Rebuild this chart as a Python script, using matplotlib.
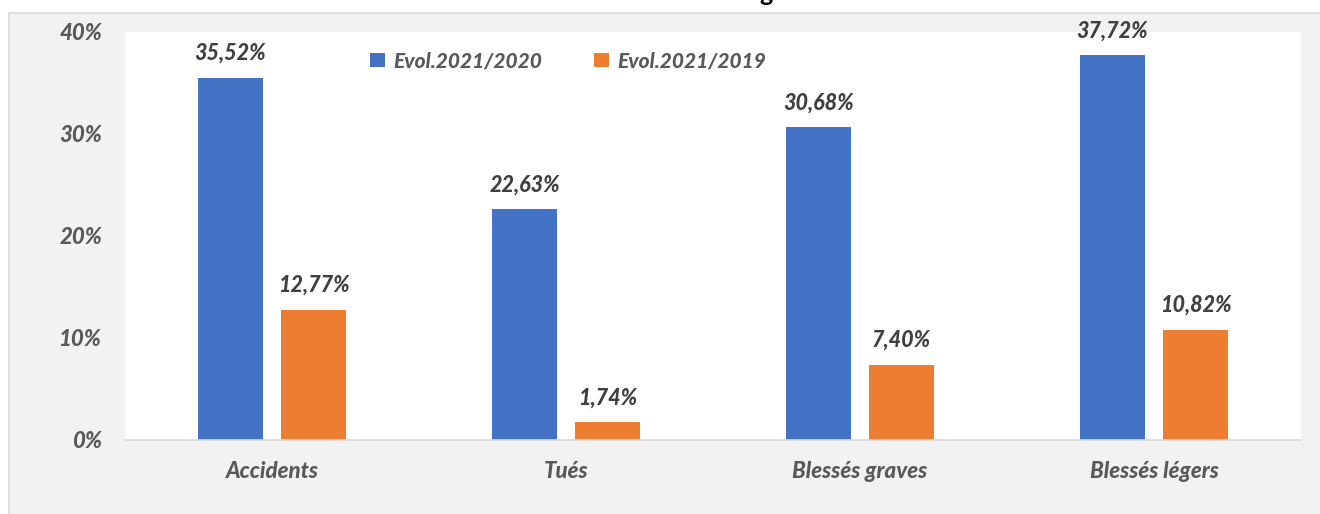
import matplotlib
matplotlib.use("Agg")
import matplotlib.pyplot as plt
from matplotlib.patches import Rectangle
import numpy as np

categories = ["Accidents", "Tués", "Blessés graves", "Blessés légers"]
evol_2020 = [35.52, 22.63, 30.68, 37.72]
evol_2019 = [12.77, 1.74, 7.40, 10.82]
series_names = ["Evol.2021/2020", "Evol.2021/2019"]
yticks = [0, 10, 20, 30, 40]

W, H = 1320, 514
fig = plt.figure(figsize=(W / 100, H / 100), dpi=100)
fig.patch.set_facecolor("white")

FONT = ["Lato", "DejaVu Sans"]
# gray chart-area background
fig.patches.append(Rectangle((9 / W, -0.01), 1.0, (H - 13) / H + 0.01, transform=fig.transFigure,
                             facecolor="#f2f2f2", edgecolor="#d9d9d9", linewidth=1.2, zorder=-10))
# cut-off title fragment
fig.text(766 / W, 1 - 1 / H, "g", ha="center", va="baseline", fontsize=18, fontweight="bold",
         color="#000000", family=FONT)

ax = fig.add_axes([125 / W, (H - 440) / H, (1301 - 125) / W, (440 - 32) / H])
ax.set_zorder(1)
ax.set_facecolor("white")
x = np.arange(len(categories))
w = 0.221
off = 0.141
b1 = ax.bar(x - off, evol_2020, w, color="#4472c4", label=series_names[0], zorder=2)
b2 = ax.bar(x + off, evol_2019, w, color="#ed7d31", label=series_names[1], zorder=2)
ax.set_xlim(-0.5, len(categories) - 0.5)
ax.set_ylim(0, 40)
for s in ["top", "right", "left"]:
    ax.spines[s].set_visible(False)
ax.spines["bottom"].set_color("#d9d9d9")
ax.spines["bottom"].set_linewidth(1.2)
ax.tick_params(axis="both", length=0)
ax.set_yticks(yticks)
ax.set_yticklabels([f"{v}%" for v in yticks], fontsize=16, fontweight="black", fontstyle="italic",
                   color="#595959", family=FONT)
ax.set_xticks(x)
ax.set_xticklabels(categories, fontsize=16, fontweight="black", fontstyle="italic",
                   color="#595959", family=FONT)
ax.tick_params(axis="y", pad=16.5)
ax.tick_params(axis="x", pad=15)

for bars, vals in ((b1, evol_2020), (b2, evol_2019)):
    for rect, v in zip(bars, vals):
        ax.annotate(f"{v:.2f}%".replace(".", ","), (rect.get_x() + rect.get_width() / 2, v),
                    xytext=(0, 10), textcoords="offset points", ha="center", va="bottom",
                    fontsize=15.5, fontweight="black", fontstyle="italic", color="#404040",
                    family=FONT, annotation_clip=False)

leg = ax.legend(loc="upper left", bbox_to_anchor=((362 - 125) / (1301 - 125), 1 - 11 / 408),
                ncol=2, frameon=False, handlelength=0.7, handleheight=0.7, handletextpad=0.4,
                columnspacing=2.5, borderaxespad=0,
                prop={"family": FONT, "size": 15, "weight": "black", "style": "italic"})
for t in leg.get_texts():
    t.set_color("#595959")

fig.savefig("out.png", dpi=100)
